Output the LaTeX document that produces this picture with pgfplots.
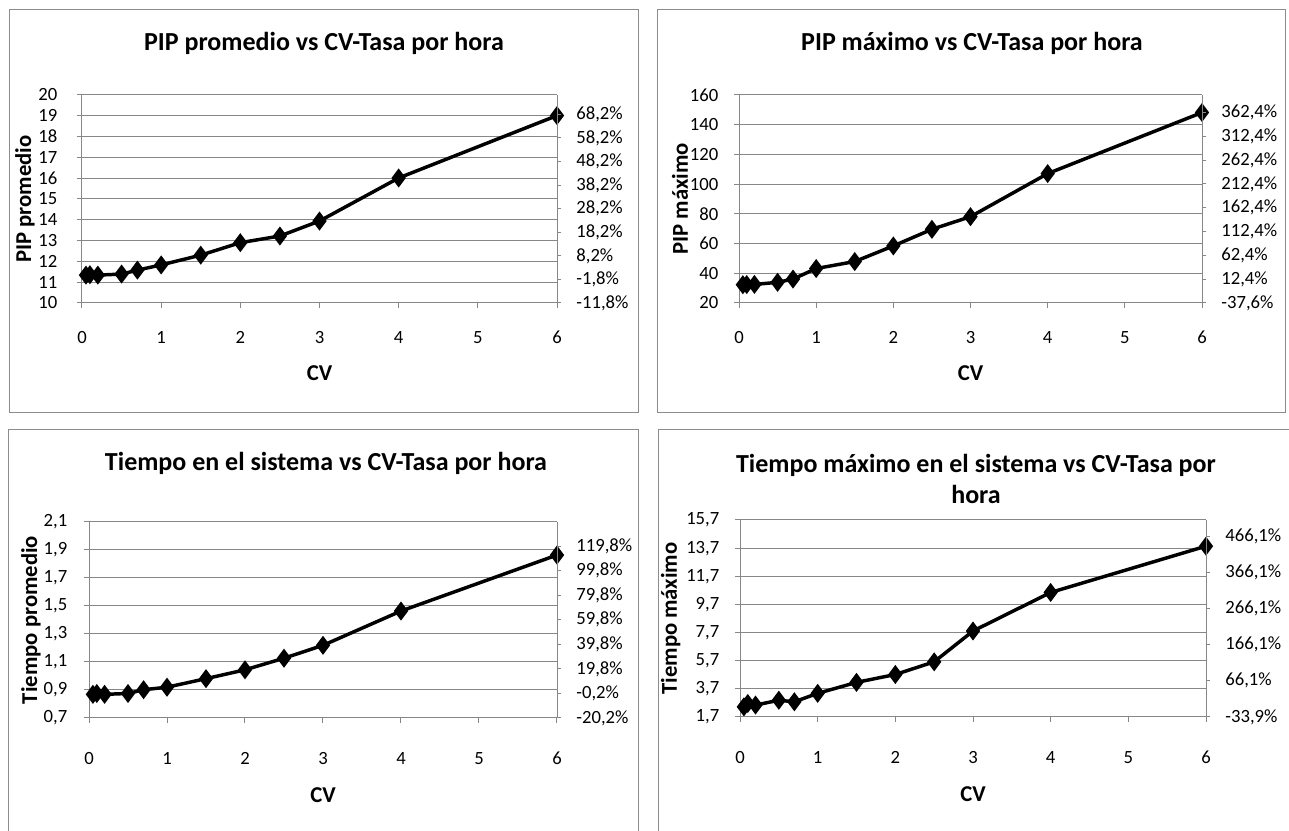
\documentclass[border=0pt]{standalone}
\usepackage{fontspec}
\setmainfont{Carlito}
\usepackage{pgfplots}
\pgfplotsset{compat=1.18}
\definecolor{gridg}{HTML}{878787}
\definecolor{frameg}{HTML}{8C8C8C}
\tikzset{lab/.style={font=\fontsize{17}{20}\selectfont\bfseries}}
\pgfplotsset{
  base/.style={
    scale only axis, anchor=south west,
    xmin=0, xmax=6, xtick={0,1,2,3,4,5,6},
    axis x line=bottom, axis y line=left,
    axis line style={draw=gridg, line width=0.75pt, -},
    x axis line style={-}, y axis line style={-},
    ymajorgrids, grid style={gridg, line width=0.75pt},
    tick align=outside, major tick length=3.75pt,
    tick style={gridg, line width=0.75pt},
    ticklabel style={font=\fontsize{14}{16}\selectfont, text=black},
    /pgf/number format/assume math mode=true,
    xticklabel style={anchor=base, yshift=-27pt},
    yticklabel style={anchor=east},
    clip=false,
  },
  sec/.style={
    scale only axis, anchor=south west,
    xmin=0, xmax=6, hide x axis,
    axis y line=right,
    axis line style={draw=gridg, line width=0.75pt, -},
    y axis line style={-},
    tick align=outside, major tick length=3pt,
    tick style={gridg, line width=0.75pt},
    ticklabel style={font=\fontsize{14}{16}\selectfont, text=black},
    yticklabel style={anchor=west, xshift=8pt},
  },
  ser/.style={black, line width=2.6pt, mark=diamond*, mark size=5pt, mark options={solid, fill=black}},
}
\begin{document}
\begin{tikzpicture}
\path[use as bounding box, fill=white] (0,0) rectangle (966.75pt,623.25pt);
\draw[frameg, line width=0.75pt] (6.75pt,313.5pt) rectangle (478.5pt,615.75pt);
\draw[frameg, line width=0.75pt] (492.75pt,313.5pt) rectangle (963.75pt,615.75pt);
\draw[frameg, line width=0.75pt] (6pt,-5pt) -- (6pt,300.75pt) -- (478.5pt,300.75pt) -- (478.5pt,-5pt);
\draw[frameg, line width=0.75pt] (493.5pt,-5pt) -- (493.5pt,300.75pt) -- (975pt,300.75pt);

\node[font=\fontsize{19.5}{23}\selectfont\bfseries] at (243pt,591pt) {PIP promedio vs CV-Tasa por hora};
\node[font=\fontsize{19.5}{23}\selectfont\bfseries] at (729pt,591pt) {PIP máximo vs CV-Tasa por hora};
\node[font=\fontsize{19.5}{23}\selectfont\bfseries] at (244.5pt,276pt) {Tiempo en el sistema vs CV-Tasa por hora};
\node[font=\fontsize{19.5}{23.5}\selectfont\bfseries, align=center] at (732pt,264pt) {Tiempo máximo en el sistema vs CV-Tasa por\\hora};

% ---------- Panel 1 ----------
\begin{axis}[base, at={(61.5pt,396pt)}, width=356.25pt, height=156pt,
  ymin=10, ymax=20, ytick={10,11,12,13,14,15,16,17,18,19,20},
  yticklabel style={xshift=-11.25pt},
  xlabel={CV}, ylabel={PIP promedio},
  every axis x label/.style={at={(axis description cs:0.5,0)}, anchor=center, yshift=-52.5pt, lab},
  every axis y label/.style={at={(axis description cs:-0.120,0.5)}, anchor=center, rotate=90, lab}]
\addplot[ser] coordinates {(0.05,11.34) (0.1,11.36) (0.2,11.34) (0.5,11.39) (0.7,11.58) (1,11.83) (1.5,12.30) (2,12.90) (2.5,13.22) (3,13.94) (4,16.01) (6,19.01)};
\end{axis}
\begin{axis}[sec, at={(61.5pt,396pt)}, width=356.25pt, height=156pt,
  ymin=-11.8, ymax=76.4, ytick={-11.8,-1.8,8.2,18.2,28.2,38.2,48.2,58.2,68.2},
  yticklabels={{-11,8\%},{-1,8\%},{8,2\%},{18,2\%},{28,2\%},{38,2\%},{48,2\%},{58,2\%},{68,2\%}}]
\end{axis}

% ---------- Panel 2 ----------
\begin{axis}[base, at={(554.25pt,396pt)}, width=347.25pt, height=156pt,
  ymin=20, ymax=160, ytick={20,40,60,80,100,120,140,160},
  yticklabel style={xshift=-8.25pt},
  xlabel={CV}, ylabel={PIP máximo},
  every axis x label/.style={at={(axis description cs:0.5,0)}, anchor=center, yshift=-52.5pt, lab},
  every axis y label/.style={at={(axis description cs:-0.1274,0.5)}, anchor=center, rotate=90, lab}]
\addplot[ser] coordinates {(0.05,32.3) (0.1,32.4) (0.2,32.5) (0.5,33.9) (0.7,36.1) (1,43.2) (1.5,47.9) (2,58.4) (2.5,69.6) (3,78.1) (4,107.1) (6,148.2)};
\end{axis}
\begin{axis}[sec, at={(554.25pt,396pt)}, width=347.25pt, height=156pt,
  ymin=-37.6, ymax=399.2, ytick={-37.6,12.4,62.4,112.4,162.4,212.4,262.4,312.4,362.4},
  yticklabels={{-37,6\%},{12,4\%},{62,4\%},{112,4\%},{162,4\%},{212,4\%},{262,4\%},{312,4\%},{362,4\%}}]
\end{axis}

% ---------- Panel 3 ----------
\begin{axis}[base, at={(66.75pt,84.75pt)}, width=351pt, height=147pt,
  ymin=0.7, ymax=2.1, ytick={0.7,0.9,1.1,1.3,1.5,1.7,1.9,2.1},
  yticklabels={{0,7},{0,9},{1,1},{1,3},{1,5},{1,7},{1,9},{2,1}},
  yticklabel style={xshift=-9pt},
  xticklabel style={yshift=-4.5pt},
  xlabel={CV}, ylabel={Tiempo promedio},
  every axis x label/.style={at={(axis description cs:0.5,0)}, anchor=center, yshift=-58pt, lab},
  every axis y label/.style={at={(axis description cs:-0.1239,0.5)}, anchor=center, rotate=90, lab}]
\addplot[ser] coordinates {(0.05,0.869) (0.1,0.875) (0.2,0.869) (0.5,0.875) (0.7,0.902) (1,0.920) (1.5,0.981) (2,1.044) (2.5,1.127) (3,1.219) (4,1.464) (6,1.864)};
\end{axis}
\begin{axis}[sec, at={(66.75pt,84.75pt)}, width=351pt, height=147pt,
  ymin=-20.2, ymax=139.4, ytick={-20.2,-0.2,19.8,39.8,59.8,79.8,99.8,119.8},
  yticklabels={{-20,2\%},{-0,2\%},{19,8\%},{39,8\%},{59,8\%},{79,8\%},{99,8\%},{119,8\%}}]
\end{axis}

% ---------- Panel 4 ----------
\begin{axis}[base, at={(555pt,85.5pt)}, width=349.5pt, height=147.75pt,
  ymin=1.7, ymax=15.7, ytick={1.7,3.7,5.7,7.7,9.7,11.7,13.7,15.7},
  yticklabels={{1,7},{3,7},{5,7},{7,7},{9,7},{11,7},{13,7},{15,7}},
  yticklabel style={xshift=-8.25pt},
  xticklabel style={yshift=-4.5pt},
  xlabel={CV}, ylabel={Tiempo máximo},
  every axis x label/.style={at={(axis description cs:0.5,0)}, anchor=center, yshift=-58pt, lab},
  every axis y label/.style={at={(axis description cs:-0.1488,0.5)}, anchor=center, rotate=90, lab}]
\addplot[ser] coordinates {(0.05,2.42) (0.1,2.66) (0.2,2.55) (0.5,2.89) (0.7,2.78) (1,3.38) (1.5,4.16) (2,4.72) (2.5,5.62) (3,7.81) (4,10.55) (6,13.84)};
\end{axis}
\begin{axis}[sec, at={(555pt,85.5pt)}, width=349.5pt, height=147.75pt,
  ymin=-33.9, ymax=510.4, ytick={-33.9,66.1,166.1,266.1,366.1,466.1},
  yticklabels={{-33,9\%},{66,1\%},{166,1\%},{266,1\%},{366,1\%},{466,1\%}}]
\end{axis}
\end{tikzpicture}
\end{document}
